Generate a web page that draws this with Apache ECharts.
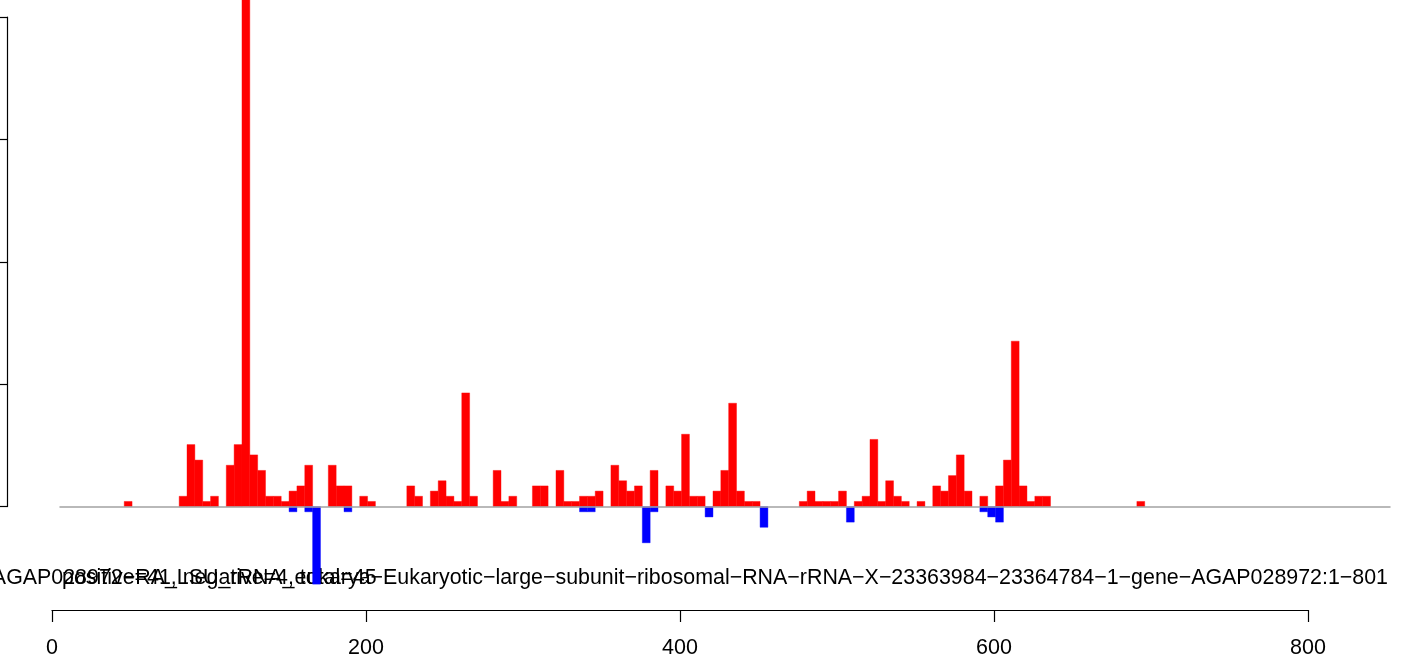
<!DOCTYPE html>
<html>
<head>
<meta charset="utf-8">
<script src="https://cdn.jsdelivr.net/npm/echarts@6/dist/echarts.min.js"></script>
<style>
html, body { margin: 0; padding: 0; background: #fff; }
#chart { width: 1406px; height: 660px; }
</style>
</head>
<body>
<div id="chart"></div>
<script>
// 5 nt bins, each value is drawn from its start position to start + 5
var binWidth = 5;
var posStart = [46, 81, 86, 91, 96, 101, 111, 116, 121, 126, 131, 136, 141, 146, 151, 156, 161,
    176, 181, 186, 196, 201, 226, 231, 241, 246, 251, 256, 261, 266, 281, 286, 291,
    306, 311, 321, 326, 331, 336, 341, 346, 356, 361, 366, 371, 381, 391, 396, 401, 406, 411,
    421, 426, 431, 436, 441, 446, 476, 481, 486, 491, 496, 501, 511, 516, 521, 526, 531, 536, 541,
    551, 561, 566, 571, 576, 581, 591, 601, 606, 611, 616, 621, 626, 631, 691];
var posValue = [1, 2, 12, 9, 1, 2, 8, 12, 120, 10, 7, 2, 2, 1, 3, 4, 8,
    8, 4, 4, 2, 1, 4, 2, 3, 5, 2, 1, 22, 2, 7, 1, 2,
    4, 4, 7, 1, 1, 2, 2, 3, 8, 5, 3, 4, 7, 4, 3, 14, 2, 2,
    3, 7, 20, 3, 1, 1, 1, 3, 1, 1, 1, 3, 1, 2, 13, 1, 5, 2, 1,
    1, 4, 3, 6, 10, 3, 2, 4, 9, 32, 4, 1, 2, 2, 1];
var negStart = [151, 161, 166, 186, 336, 341, 376, 381, 416, 451, 506, 591, 596, 601];
var negValue = [-1, -1, -15, -1, -1, -1, -7, -1, -2, -4, -3, -1, -2, -3];

var xTicks = [0, 200, 400, 600, 800];
var yMin = -20, yMax = 98;
var yTickStep = 23.675;

var title = 'AGAP028972−RA_LSU_rRNA_eukarya−Eukaryotic−large−subunit−ribosomal−RNA−rRNA−X−23363984−23364784−1−gene−AGAP028972:1−801';
var subtitle = 'positive=41, negative=4, total=45';

var font = '21.4px "Liberation Sans", Arial, sans-serif';

function pairs(xs, ys) {
    var out = [];
    for (var i = 0; i < xs.length; i++)
        out.push([xs[i], ys[i]]);
    return out;
}

function renderBar(params, api) {
    var start = api.value(0),
        v = api.value(1),
        a = api.coord([start, 0]),
        b = api.coord([start + binWidth, v]);
    return {
        type: 'rect',
        shape: {
            x: a[0],
            y: Math.min(a[1], b[1]),
            width: b[0] - a[0],
            height: Math.abs(b[1] - a[1])
        },
        style: {
            fill: api.visual('color'),
            stroke: api.visual('color'),
            lineWidth: 0.4
        }
    };
}

var chart = echarts.init(document.getElementById('chart'));

chart.setOption({
    animation: false,
    backgroundColor: '#fff',
    grid: [
        // bars + bottom axis
        { left: 52, right: 98, top: 0, bottom: 50 },
        // left axis, only over its tick range
        { left: 7, width: 1, top: 17, bottom: 153.4 },
        // grey zero line
        { left: 60, right: 16, top: 0, bottom: 50 }
    ],
    xAxis: [
        {
            gridIndex: 0,
            type: 'value',
            min: xTicks[0],
            max: xTicks[xTicks.length - 1],
            interval: 200,
            axisLine: { onZero: false, lineStyle: { color: '#000', width: 1.2 } },
            axisTick: { inside: false, length: 12, lineStyle: { color: '#000', width: 1.2 } },
            axisLabel: { margin: 27, color: '#000', fontSize: 21.5, fontFamily: '"Liberation Sans", Arial, sans-serif' },
            splitLine: { show: false }
        },
        { gridIndex: 1, type: 'value', show: false },
        {
            gridIndex: 2,
            type: 'value',
            min: 0,
            max: 1,
            axisLine: { onZero: true, lineStyle: { color: '#a3a3a3', width: 1.5 } },
            axisTick: { show: false },
            axisLabel: { show: false },
            splitLine: { show: false },
            z: 10
        }
    ],
    yAxis: [
        { gridIndex: 0, type: 'value', min: yMin, max: yMax, show: false },
        {
            gridIndex: 1,
            type: 'value',
            min: 0,
            max: yTickStep * 4,
            interval: yTickStep,
            axisLine: { show: true, lineStyle: { color: '#000', width: 1.2 } },
            axisTick: { show: true, inside: false, length: 7, lineStyle: { color: '#000', width: 1.2 } },
            axisLabel: { show: false },
            splitLine: { show: false }
        },
        { gridIndex: 2, type: 'value', min: yMin, max: yMax, show: false }
    ],
    graphic: [
        {
            type: 'text',
            right: 18,
            top: 568,
            z: 0,
            style: { text: title, font: font, fill: '#000' }
        },
        {
            type: 'text',
            left: 62,
            top: 568,
            z: 0,
            style: { text: subtitle, font: font, fill: '#000' }
        }
    ],
    series: [
        {
            type: 'custom',
            name: 'positive',
            xAxisIndex: 0,
            yAxisIndex: 0,
            itemStyle: { color: '#ff0000' },
            renderItem: renderBar,
            clip: true,
            z: 5,
            data: pairs(posStart, posValue)
        },
        {
            type: 'custom',
            name: 'negative',
            xAxisIndex: 0,
            yAxisIndex: 0,
            itemStyle: { color: '#0000ff' },
            renderItem: renderBar,
            clip: true,
            z: 5,
            data: pairs(negStart, negValue)
        }
    ]
});
</script>
</body>
</html>
